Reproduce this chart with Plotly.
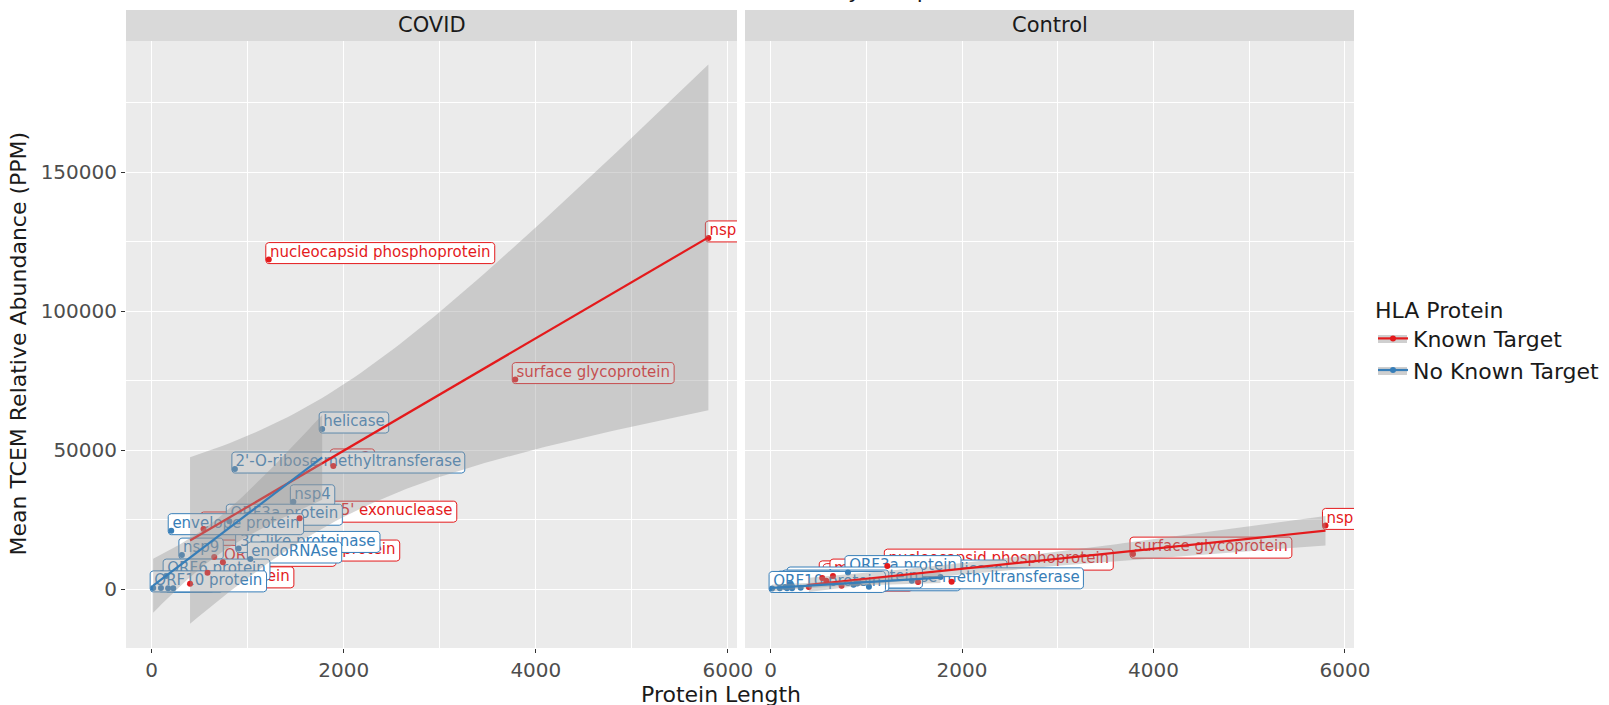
import math
import numpy as np
import plotly.graph_objects as go

W, H = 1609, 705

# ---------------- data ----------------
known_names = ["nsp1", "nsp2", "nsp3", "nsp8", "3'-to-5' exonuclease",
               "surface glycoprotein", "membrane glycoprotein", "ORF7a protein",
               "ORF8 protein", "nucleocapsid phosphoprotein"]
known_length = [539, 1891, 5797, 581, 1540, 3786, 651, 741, 399, 1219]
known_covid = [21600, 44300, 126400, 5840, 25500, 75400, 11500, 9600, 1850, 118600]
known_control = [4000, 2600, 22900, 3000, 2500, 12560, 4650, 1200, 700, 8240]

none_names = ["nsp4", "3C-like proteinase", "nsp7", "nsp9", "nsp11", "helicase",
              "endoRNAse", "2'-O-ribose methyltransferase", "ORF3a protein",
              "envelope protein", "ORF6 protein", "ORF7b", "ORF10 protein"]
none_length = [1475, 905, 224, 314, 96, 1775, 1027, 866, 808, 203, 150, 171, 15]
none_covid = [31400, 14600, 300, 12200, 400, 57600, 10800, 43200, 24400, 21000, 4650, 300, 400]
none_control = [3000, 2000, 300, 440, 300, 4300, 800, 1500, 5900, 1800, 700, 300, 200]

facets = ["COVID", "Control"]
groups = ["Known Target", "No Known Target"]
colors = {"Known Target": "#E41A1C", "No Known Target": "#377EB8"}

x_ticks = [0, 2000, 4000, 6000]
y_ticks = [0, 50000, 100000, 150000]
title_text = "Mean TCEM Abundance, Normalized by Sample Count"

# ---------------- layout constants ----------------
XR = [-268, 6095]
YR = [-21240, 197300]
panels_px = {"COVID": (126, 737), "Control": (745, 1354)}
PT, PB = 41, 648
STRIP_T = 10
LABEL_SIZE = 15
FONT = "DejaVu Sans"

# DejaVu Sans advance widths (units per em 2048)
MET = {' ': 651, "'": 563, '-': 739, '.': 651, '(': 799, ')': 799,
       'A': 1401, 'B': 1405, 'C': 1430, 'D': 1577, 'E': 1294, 'F': 1178, 'G': 1587,
       'H': 1540, 'I': 604, 'K': 1343, 'L': 1141, 'M': 1767, 'N': 1532, 'O': 1612,
       'P': 1235, 'R': 1423, 'S': 1300, 'T': 1251, 'V': 1401,
       'a': 1255, 'b': 1300, 'c': 1126, 'd': 1300, 'e': 1260, 'f': 721, 'g': 1300,
       'h': 1298, 'i': 569, 'j': 569, 'k': 1186, 'l': 569, 'm': 1995, 'n': 1298,
       'o': 1253, 'p': 1300, 'q': 1300, 'r': 842, 's': 1067, 't': 803, 'u': 1298,
       'v': 1212, 'w': 1675, 'x': 1212, 'y': 1212, 'z': 1075}
for d in "0123456789":
    MET[d] = 1303


def text_width(s, size):
    return sum(MET.get(c, 1250) for c in s) / 2048.0 * size


def t975(df):
    c = math.exp(math.lgamma((df + 1) / 2) - math.lgamma(df / 2)) / math.sqrt(df * math.pi)

    def cdf(t):
        xs = np.linspace(0, t, 4001)
        pdf = c * (1 + xs ** 2 / df) ** (-(df + 1) / 2)
        return 0.5 + np.trapezoid(pdf, xs)
    lo, hi = 0.0, 30.0
    for _ in range(60):
        mid = (lo + hi) / 2
        if cdf(mid) < 0.975:
            lo = mid
        else:
            hi = mid
    return (lo + hi) / 2


def lm_band(x, y):
    x = np.asarray(x, float)
    y = np.asarray(y, float)
    n = len(x)
    mx = x.mean()
    sxx = ((x - mx) ** 2).sum()
    b1 = ((x - mx) * (y - y.mean())).sum() / sxx
    b0 = y.mean() - b1 * mx
    res = y - (b0 + b1 * x)
    s = math.sqrt((res ** 2).sum() / (n - 2))
    xs = np.linspace(x.min(), x.max(), 80)
    fit = b0 + b1 * xs
    se = s * np.sqrt(1 / n + (xs - mx) ** 2 / sxx)
    t = t975(n - 2)
    return xs, fit, fit - t * se, fit + t * se


def box_poly(w, h, left, bottom, r=3.0):
    right, top = left + w, bottom + h
    pts = []
    for cx, cy, a0 in [(right - r, top - r, 0), (left + r, top - r, 90),
                       (left + r, bottom + r, 180), (right - r, bottom + r, 270)]:
        for k in range(5):
            a = math.radians(a0 + 22.5 * k)
            pts.append((cx + r * math.cos(a), cy + r * math.sin(a)))
    pts.append(pts[0])
    return pts


fig = go.Figure()

data = {
    "COVID": {"Known Target": (known_names, known_length, known_covid),
              "No Known Target": (none_names, none_length, none_covid)},
    "Control": {"Known Target": (known_names, known_length, known_control),
                "No Known Target": (none_names, none_length, none_control)},
}

for fi, facet in enumerate(facets):
    xa = "x" if fi == 0 else "x2"
    ya = "y" if fi == 0 else "y2"
    p0, p1 = panels_px[facet]
    ux = (XR[1] - XR[0]) / (p1 - p0)
    uy = (YR[1] - YR[0]) / (PB - PT)
    # labels
    for g in groups:
        names, xs, ys = data[facet][g]
        col = colors[g]
        for nm, xv, yv in zip(names, xs, ys):
            tw = text_width(nm, LABEL_SIZE)
            bw = tw + 8
            poly = box_poly(bw, 21, -3, -4)
            fig.add_trace(go.Scatter(
                x=[xv + px * ux for px, py in poly], y=[yv + py * uy for px, py in poly],
                mode="lines", fill="toself", fillcolor="white",
                line=dict(color=col, width=1), hoverinfo="skip", showlegend=False,
                xaxis=xa, yaxis=ya))
            fig.add_trace(go.Scatter(
                x=[xv + (-3 + bw / 2) * ux], y=[yv + (-4 + 10.5) * uy], mode="text",
                text=[nm], textposition="middle center",
                textfont=dict(family=FONT, size=LABEL_SIZE, color=col),
                hoverinfo="skip", showlegend=False, xaxis=xa, yaxis=ya))
    # points
    for g in groups:
        names, xs, ys = data[facet][g]
        fig.add_trace(go.Scatter(x=xs, y=ys, mode="markers",
                                 marker=dict(color=colors[g], size=6),
                                 showlegend=False, xaxis=xa, yaxis=ya, name=g))
    # smooth
    for g in groups:
        names, xs, ys = data[facet][g]
        sx, fit, lo, hi = lm_band(xs, ys)
        fig.add_trace(go.Scatter(
            x=list(sx) + list(sx[::-1]), y=list(hi) + list(lo[::-1]),
            mode="lines", fill="toself", fillcolor="rgba(153,153,153,0.4)",
            line=dict(width=0), hoverinfo="skip", showlegend=False,
            xaxis=xa, yaxis=ya))
        fig.add_trace(go.Scatter(x=sx, y=fit, mode="lines",
                                 line=dict(color=colors[g], width=2.2),
                                 showlegend=False, xaxis=xa, yaxis=ya))

for g in groups:
    fig.add_trace(go.Scatter(x=[None], y=[None], mode="lines+markers", name=g,
                             line=dict(color=colors[g], width=2.2),
                             marker=dict(color=colors[g], size=6), showlegend=True))

axis_common = dict(range=XR, tickvals=x_ticks, ticktext=[str(v) for v in x_ticks],
                   showgrid=True, gridcolor="white", gridwidth=1.1, zeroline=False,
                   ticks="outside", ticklen=4, tickcolor="#333333", tickwidth=1,
                   tickfont=dict(family=FONT, size=20, color="#4D4D4D"),
                   minor=dict(dtick=1000, tick0=0, showgrid=True, gridcolor="white",
                              gridwidth=0.5),
                   showline=False)
yaxis_common = dict(range=YR, tickvals=y_ticks, ticktext=[str(v) for v in y_ticks],
                    showgrid=True, gridcolor="white", gridwidth=1.1, zeroline=False,
                    minor=dict(dtick=25000, tick0=0, showgrid=True, gridcolor="white",
                               gridwidth=0.5),
                    showline=False)

LEG_X = 1373
fig.update_layout(
    width=W, height=H, margin=dict(l=0, r=0, t=0, b=0, autoexpand=False),
    paper_bgcolor="white", plot_bgcolor="#EBEBEB",
    font=dict(family=FONT, color="#1A1A1A"),
    xaxis=dict(domain=[126 / W, 737 / W], anchor="y", **axis_common),
    xaxis2=dict(domain=[745 / W, 1354 / W], anchor="y2", **axis_common),
    yaxis=dict(domain=[(H - PB) / H, (H - PT) / H], anchor="x",
               ticks="outside", ticklen=4, tickcolor="#333333", tickwidth=1,
               tickfont=dict(family=FONT, size=20, color="#4D4D4D"), **yaxis_common),
    yaxis2=dict(domain=[(H - PB) / H, (H - PT) / H], anchor="x2", showticklabels=False,
                ticks="", **yaxis_common),
    legend=dict(title=dict(text="HLA Protein", font=dict(family=FONT, size=22, color="#1A1A1A")),
                font=dict(family=FONT, size=22, color="#1A1A1A"),
                x=LEG_X / W, xanchor="left", y=(H - 289) / H, yanchor="top",
                bgcolor="rgba(0,0,0,0)", itemwidth=30, tracegroupgap=0),
    showlegend=True,
)

shapes = []
annotations = []
for facet in facets:
    p0, p1 = panels_px[facet]
    shapes.append(dict(type="rect", xref="paper", yref="paper",
                       x0=p0 / W, x1=p1 / W, y0=(H - PT) / H, y1=(H - STRIP_T) / H,
                       fillcolor="#D9D9D9", line=dict(width=0), layer="above"))
    annotations.append(dict(text=facet, xref="paper", yref="paper",
                            x=(p0 + p1) / 2 / W, y=(H - (PT + STRIP_T) / 2) / H,
                            showarrow=False, xanchor="center", yanchor="middle",
                            font=dict(family=FONT, size=21, color="#1A1A1A")))
# legend key backgrounds (grey ribbon fill)
for cy in (339, 371):
    shapes.append(dict(type="rect", xref="paper", yref="paper",
                       x0=(LEG_X + 5) / W, x1=(LEG_X + 34) / W,
                       y0=(H - cy - 4) / H, y1=(H - cy + 4) / H,
                       fillcolor="#CFCFCF", line=dict(width=0), layer="below"))
annotations.append(dict(text="Protein Length", xref="paper", yref="paper",
                        x=721 / W, y=(H - 694) / H, showarrow=False,
                        xanchor="center", yanchor="middle",
                        font=dict(family=FONT, size=22, color="#1A1A1A")))
annotations.append(dict(text="Mean TCEM Relative Abundance (PPM)", xref="paper", yref="paper",
                        x=17.5 / W, y=(H - 344) / H, showarrow=False, textangle=-90,
                        xanchor="center", yanchor="middle",
                        font=dict(family=FONT, size=22, color="#1A1A1A")))
annotations.append(dict(text=title_text, xref="paper", yref="paper",
                        x=726 / W, y=(H - 5) / H, showarrow=False,
                        xanchor="center", yanchor="bottom",
                        font=dict(family=FONT, size=22, color="#1A1A1A")))
fig.update_layout(shapes=shapes, annotations=annotations)

fig.write_html("out.html")
